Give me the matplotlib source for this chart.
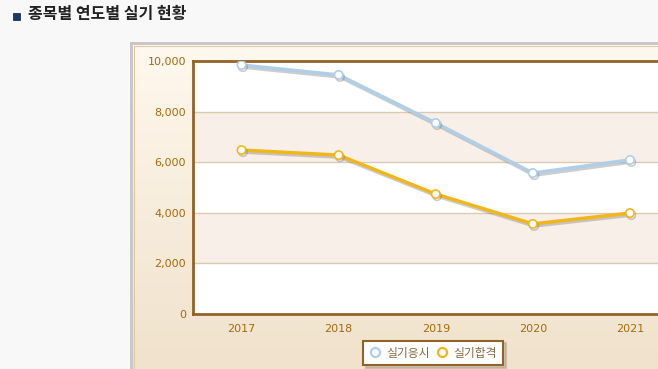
import matplotlib
matplotlib.use("Agg")
import matplotlib.pyplot as plt
import matplotlib.patheffects as pe
from matplotlib.patches import Rectangle
from matplotlib.lines import Line2D
import numpy as np

plt.rcParams["font.family"] = ["DejaVu Sans", "Noto Sans CJK KR"]

YEARS = ["2017", "2018", "2019", "2020", "2021"]
APPLIED = [9840, 9450, 7550, 5570, 6090]
PASSED = [6480, 6280, 4740, 3560, 3990]
SERIES = ["실기응시", "실기합격"]
COLORS = ["#b0cee8", "#f0b61c"]

W, H = 658, 369


def fx(px):
    return px / W


def fy(py):
    return 1 - py / H


fig = plt.figure(figsize=(W / 100, H / 100), dpi=100)
fig.patch.set_facecolor("#f8f8f8")

# title + little icon
fig.patches.append(Rectangle((fx(13), fy(20)), 7 / W, 7 / H, transform=fig.transFigure,
                             facecolor="#1a3a6a", edgecolor="#0a1a30", lw=0.5))
fig.text(fx(28), fy(14), "종목별 연도별 실기 현황", family=["Noto Sans CJK KR", "DejaVu Sans"],
         fontsize=11.5, fontweight="bold", color="#222222", va="center", ha="left")

# outer grey frame and gradient panel
fig.patches.append(Rectangle((fx(130), 0), (W - 130) / W, fy(42), transform=fig.transFigure,
                             facecolor="#c8c8c8", edgecolor="none", zorder=-2))
bg = fig.add_axes([fx(133), 0, (W - 133) / W, fy(45)], zorder=-1)
grad = np.linspace(0, 1, 256)[:, None, None]
top = np.array([255, 248, 238]) / 255
bot = np.array([240, 226, 204]) / 255
img = top + (bot - top) * grad
bg.imshow(img, aspect="auto", extent=[0, 1, 0, 1])
bg.axis("off")
fig.patches.append(Rectangle((fx(134), -0.01), 1, fy(46) + 0.01, transform=fig.transFigure,
                             facecolor="none", edgecolor="#e2c8a0", lw=0.8, zorder=-0.5))

# plot area
ax = fig.add_axes([fx(193), fy(314), (678.5 - 193) / W, (314 - 61) / H])
ax.set_facecolor("white")
x = np.arange(len(YEARS))
ax.set_xlim(-0.5, len(YEARS) - 0.5)
ax.set_ylim(0, 10000)
for lo in (2000, 6000):
    ax.axhspan(lo, lo + 2000, color="#f8f0e8", zorder=0, lw=0)
for g in (2000, 4000, 6000, 8000):
    ax.axhline(g, color="#dccab0", lw=1, zorder=1)

shadow = [pe.SimpleLineShadow(offset=(1.0, -1.5), shadow_color="#707070", alpha=0.35), pe.Normal()]
for vals, col in zip([APPLIED, PASSED], COLORS):
    ax.plot(x, vals, color=col, lw=2.5, marker="o", ms=6, mfc="white", mec=col,
            mew=1.2, path_effects=shadow, zorder=3)

for s in ax.spines.values():
    s.set_color("#946226")
    s.set_linewidth(2)
ax.set_xticks(x, YEARS)
ax.set_yticks(range(0, 10001, 2000), [f"{v:,}" for v in range(0, 10001, 2000)])
ax.tick_params(colors="#a66a08", labelsize=8, length=0, pad=5)
ax.tick_params(axis="x", pad=7)

handles = [Line2D([], [], ls="none", marker="o", ms=6.5, mfc="white", mec=c, mew=1.6) for c in COLORS]
leg = fig.legend(handles=handles, labels=SERIES, loc="center", bbox_to_anchor=(fx(433), fy(353)),
                 ncol=2, frameon=True, fancybox=False, shadow={"color": "#b0a090", "alpha": 0.5},
                 prop={"family": ["Noto Sans CJK KR", "DejaVu Sans"], "size": 8.5},
                 handlelength=1.0, handletextpad=0.5, columnspacing=0.5, borderpad=0.5,
                 borderaxespad=0)
leg.get_frame().set_edgecolor("#946226")
leg.get_frame().set_linewidth(1.5)
for t in leg.get_texts():
    t.set_color("#8a6a40")

fig.savefig("out.png", dpi=100, facecolor=fig.get_facecolor())
